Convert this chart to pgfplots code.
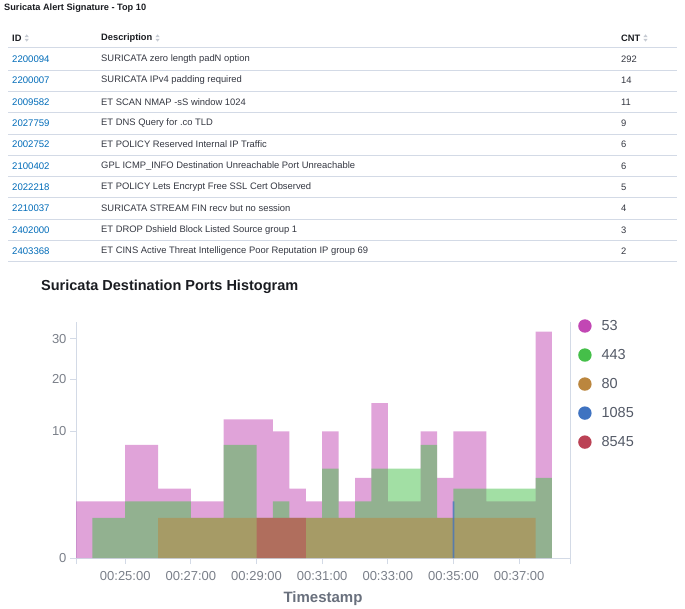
\documentclass[border=0pt]{standalone}
\usepackage{fontspec}
\setmainfont{Liberation Sans}
\usepackage{pgfplots}
\pgfplotsset{compat=1.18}
\definecolor{c53}{HTML}{C247B4}
\definecolor{c443}{HTML}{45BF49}
\definecolor{c80}{HTML}{BB863E}
\definecolor{c1085}{HTML}{3F73C1}
\definecolor{c8545}{HTML}{BB4255}
\definecolor{txt}{HTML}{343741}
\definecolor{link}{HTML}{006BB8}
\definecolor{tickgrey}{HTML}{7A7F89}
\definecolor{labgrey}{HTML}{69707D}
\definecolor{axisgrey}{HTML}{D3DAE6}
\definecolor{sortgrey}{HTML}{C5CAD2}
\definecolor{titlecol}{HTML}{1A1C21}
\definecolor{leggrey}{HTML}{535966}
\newcommand\fs[1]{\fontsize{#1}{#1}\selectfont}
\tikzset{sorti/.pic={\fill[sortgrey] (-2.2pt,0.8pt)--(2.2pt,0.8pt)--(0pt,3.6pt)--cycle; \fill[sortgrey] (-2.2pt,-0.8pt)--(2.2pt,-0.8pt)--(0pt,-3.6pt)--cycle;}}
\begin{document}
\begin{tikzpicture}
\useasboundingbox (0pt,0pt) rectangle (685pt,-609pt);
% ---- table ----
\node[anchor=west,inner sep=0,text=titlecol] at (4pt,-8pt) {\bfseries\fs{9.2}Suricata Alert Signature - Top 10};
\node[anchor=west,inner sep=0,text=titlecol] (h1) at (12pt,-38pt) {\bfseries\fs{9.3}ID};
\path (h1.east) ++(5pt,0pt) pic {sorti};
\node[anchor=west,inner sep=0,text=titlecol] (h2) at (101pt,-38pt) {\bfseries\fs{9.3}Description};
\path (h2.east) ++(5pt,0pt) pic {sorti};
\node[anchor=west,inner sep=0,text=titlecol] (h3) at (621pt,-38pt) {\bfseries\fs{9.3}CNT};
\path (h3.east) ++(5pt,0pt) pic {sorti};
\draw[axisgrey,line width=1pt] (8pt,-48pt) -- (677pt,-48pt);
\foreach \y/\id/\d/\c in {
 59.5/2200094/SURICATA zero length padN option/292,
 80.5/2200007/SURICATA IPv4 padding required/14,
 102/2009582/ET SCAN NMAP -sS window 1024/11,
 123.5/2027759/ET DNS Query for .co TLD/9,
 144.5/2002752/ET POLICY Reserved Internal IP Traffic/6,
 166/2100402/GPL ICMP\_INFO Destination Unreachable Port Unreachable/6,
 187/2022218/ET POLICY Lets Encrypt Free SSL Cert Observed/5,
 208.5/2210037/SURICATA STREAM FIN recv but no session/4,
 230/2402000/ET DROP Dshield Block Listed Source group 1/3,
 251/2403368/ET CINS Active Threat Intelligence Poor Reputation IP group 69/2}{
 \node[anchor=west,inner sep=0,text=link] at (12pt,-\y pt) {\fs{9.6}\id};
 \node[anchor=west,inner sep=0,text=txt] at (101pt,-\y pt) {\fs{9.4}\d};
 \node[anchor=west,inner sep=0,text=txt] at (621pt,-\y pt) {\fs{9.4}\c};
 \draw[axisgrey,line width=0.8pt] (8pt,{-(\y+10.7)*1pt}) -- (677pt,{-(\y+10.7)*1pt});
}
% ---- histogram ----
\node[anchor=west,inner sep=0,text=titlecol] at (41pt,-287pt) {\bfseries\fs{14.5}Suricata Destination Ports Histogram};
\begin{axis}[
  at={(76pt,-558pt)}, anchor=south west,
  scale only axis, width=494pt, height=236pt,
  xmin=23.5, xmax=38.55, ymin=0, ymax=34.8,
  y coord trafo/.code={\pgfmathparse{sqrt(#1)}},
  y coord inv trafo/.code={\pgfmathparse{(#1)^2}},
  axis x line=bottom, axis y line=left,
  axis line style={-, draw=axisgrey, line width=0.8pt},
  xtick={25,27,29,31,33,35,37},
  xticklabels={00:25:00,00:27:00,00:29:00,00:31:00,00:33:00,00:35:00,00:37:00},
  extra x ticks={23.5,38.55}, extra x tick labels={},
  ytick={0,10,20,30}, yticklabels={0,10,20,30},
  tick align=outside, major tick length=6pt,
  tick style={draw=axisgrey, line width=0.8pt},
  every tick label/.append style={font=\fs{13}, text=tickgrey},
  xticklabel style={yshift=-4pt},
  xlabel={Timestamp}, xlabel style={font=\bfseries\fs{15}, text=labgrey, yshift=8pt},
  clip=false,
  legend style={at={(1,1)}, anchor=north west, xshift=8pt, yshift=4pt, draw=none, fill=none,
    font=\fs{14.5}, text=leggrey, row sep=13.4pt, inner sep=0pt, legend cell align=left,
    /tikz/every odd column/.append style={column sep=8pt}},
  legend image code/.code={\fill[fill opacity=1,draw=none] (4pt,0pt) circle (6.7pt);},
]
\addplot[const plot, fill=c53, fill opacity=0.5, draw=none] table {
23.5 2
24.0 2
24.5 2
25.0 8
25.5 8
26.0 3
26.5 3
27.0 2
27.5 2
28.0 12
28.5 12
29.0 12
29.5 10
30.0 3
30.5 2
31.0 10
31.5 2
32.0 4
32.5 15
33.0 2
33.5 2
34.0 10
34.5 4
35.0 10
35.5 10
36.0 2
36.5 2
37.0 2
37.5 32
38.0 32
} \closedcycle;
\addlegendentry{53}
\addplot[const plot, fill=c443, fill opacity=0.5, draw=none] table {
24.0 1
24.5 1
25.0 2
25.5 2
26.0 2
26.5 2
27.0 1
27.5 1
28.0 8
28.5 8
29.0 1
29.5 2
30.0 1
30.5 1
31.0 5
31.5 1
32.0 2
32.5 5
33.0 5
33.5 5
34.0 8
34.5 1
35.0 3
35.5 3
36.0 3
36.5 3
37.0 3
37.5 4
38.0 4
} \closedcycle;
\addlegendentry{443}
\addplot[const plot, fill=c80, fill opacity=0.5, draw=none] table {
26.0 1
26.5 1
27.0 1
27.5 1
28.0 1
28.5 1
29.0 1
29.5 1
30.0 1
30.5 1
31.0 1
31.5 1
32.0 1
32.5 1
33.0 1
33.5 1
34.0 1
34.5 1
35.0 1
35.5 1
36.0 1
36.5 1
37.0 1
37.5 1
} \closedcycle;
\addlegendentry{80}
\addplot[const plot, fill=c1085, fill opacity=0.75, draw=none] table {
34.975 2
35.025 2
} \closedcycle;
\addlegendentry{1085}
\addplot[const plot, fill=c8545, fill opacity=0.5, draw=none] table {
29.0 1
29.5 1
30.0 1
30.5 1
} \closedcycle;
\addlegendentry{8545}
\draw[axisgrey, line width=0.8pt] (rel axis cs:1,0) -- (rel axis cs:1,1);
\end{axis}
\end{tikzpicture}
\end{document}
